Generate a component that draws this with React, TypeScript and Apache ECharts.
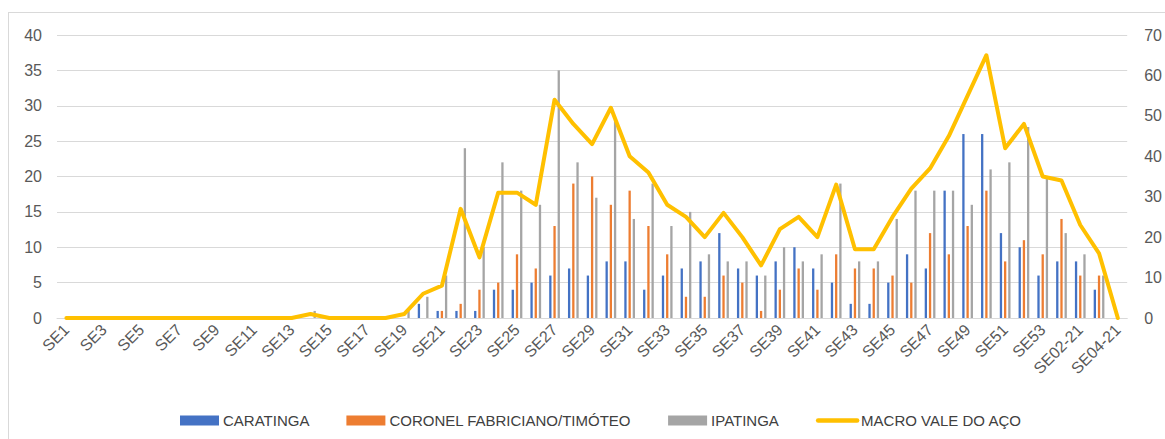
import React, { useEffect, useRef } from "react";
import * as echarts from "echarts";

const categories: string[] = [
  "SE1","SE2","SE3","SE4","SE5","SE6","SE7","SE8","SE9","SE10",
  "SE11","SE12","SE13","SE14","SE15","SE16","SE17","SE18","SE19","SE20",
  "SE21","SE22","SE23","SE24","SE25","SE26","SE27","SE28","SE29","SE30",
  "SE31","SE32","SE33","SE34","SE35","SE36","SE37","SE38","SE39","SE40",
  "SE41","SE42","SE43","SE44","SE45","SE46","SE47","SE48","SE49","SE50",
  "SE51","SE52","SE53","SE01-21","SE02-21","SE03-21","SE04-21",
];

const caratinga: number[] = [
  0,0,0,0,0,0,0,0,0,0, 0,0,0,0,0,0,0,0,0,2,
  1,1,1,4,4,5,6,7,6,8, 8,4,6,7,8,12,7,6,8,10,
  7,5,2,2,5,9,7,18,26,26, 12,10,6,8,8,4,0,
];

const coronel: number[] = [
  0,0,0,0,0,0,0,0,0,0, 0,0,0,0,0,0,0,0,0,0,
  1,2,4,5,9,7,13,19,20,16, 18,13,9,3,3,6,5,1,4,7,
  4,9,7,7,6,5,12,9,13,18, 8,11,9,14,6,6,0,
];

const ipatinga: number[] = [
  0,0,0,0,0,0,0,0,0,0, 0,0,0,1,0,0,0,0,1,3,
  6,24,10,22,18,16,35,22,17,28, 14,19,13,15,9,8,8,6,10,8,
  9,19,8,8,14,18,18,18,16,21, 22,27,20,12,9,6,0,
];

const macro: number[] = [
  0,0,0,0,0,0,0,0,0,0, 0,0,0,1,0,0,0,0,1,6,
  8,27,15,31,31,28,54,48,43,52, 40,36,28,25,20,26,20,13,22,25,
  20,33,17,17,25,32,37,45,55,65, 42,48,35,34,23,16,0,
];

const leftTicks = { min: 0, max: 40, interval: 5 };
const rightTicks = { min: 0, max: 70, interval: 10 };

const FONT = "'Liberation Sans', Arial, sans-serif";

export default function App() {
  const ref = useRef<HTMLDivElement>(null);

  useEffect(() => {
    if (!ref.current) return;
    const chart = echarts.init(ref.current, undefined, { renderer: "svg" });
    const barCommon = {
      type: "bar" as const,
      barWidth: 2.3,
      barGap: "83%",
      yAxisIndex: 0,
    };
    chart.setOption({
      animation: false,
      textStyle: { fontFamily: FONT },
      grid: { left: 57, right: 35, top: 35, bottom: 121, containLabel: false },
      legend: {
        left: 175,
        top: 408,
        itemWidth: 39,
        itemHeight: 10,
        itemGap: 37,
        textStyle: { color: "#404040", fontSize: 15, fontFamily: FONT, padding: [0, 0, 0, -1] },
        data: [
          { name: "CARATINGA", icon: "rect" },
          { name: "CORONEL FABRICIANO/TIMÓTEO", icon: "rect" },
          { name: "IPATINGA", icon: "rect" },
          {
            name: "MACRO VALE DO AÇO",
            itemStyle: { opacity: 0, color: "rgba(0,0,0,0)", borderWidth: 0 },
            lineStyle: { width: 4.5, cap: "round", color: "#FFC000" },
          },
        ],
      },
      xAxis: {
        type: "category",
        data: categories,
        axisLine: { lineStyle: { color: "#d9d9d9", width: 1 } },
        axisTick: { show: false },
        axisLabel: {
          interval: 1,
          rotate: 45,
          color: "#595959",
          fontSize: 16,
          margin: 9,
          fontFamily: FONT,
        },
      },
      yAxis: [
        {
          type: "value",
          ...leftTicks,
          axisLine: { show: false },
          axisTick: { show: false },
          axisLabel: { color: "#595959", fontSize: 16, margin: 15, fontFamily: FONT },
          splitLine: { lineStyle: { color: "#d9d9d9", width: 1 } },
        },
        {
          type: "value",
          ...rightTicks,
          axisLine: { show: false },
          axisTick: { show: false },
          axisLabel: { color: "#595959", fontSize: 16, margin: 17, fontFamily: FONT },
          splitLine: { show: false },
        },
      ],
      series: [
        { ...barCommon, name: "CARATINGA", data: caratinga, itemStyle: { color: "#4472C4" } },
        { ...barCommon, name: "CORONEL FABRICIANO/TIMÓTEO", data: coronel, itemStyle: { color: "#ED7D31" } },
        { ...barCommon, name: "IPATINGA", data: ipatinga, itemStyle: { color: "#A5A5A5" } },
        {
          type: "line",
          name: "MACRO VALE DO AÇO",
          yAxisIndex: 1,
          data: macro,
          symbol: "none",
          lineStyle: { color: "#FFC000", width: 4, cap: "round", join: "round" },
          itemStyle: { color: "#FFC000" },
        },
      ],
    });
    return () => chart.dispose();
  }, []);

  return (
    <div style={{ position: "fixed", left: 0, top: 0, width: 1165, height: 439, background: "#fff", overflow: "hidden" }}>
      <div
        style={{
          position: "absolute",
          left: 8,
          top: 12,
          width: 1165,
          height: 440,
          border: "1px solid #d9d9d9",
          boxSizing: "border-box",
        }}
      />
      <div ref={ref} style={{ position: "absolute", left: 0, top: 0, width: 1165, height: 439 }} />
    </div>
  );
}
